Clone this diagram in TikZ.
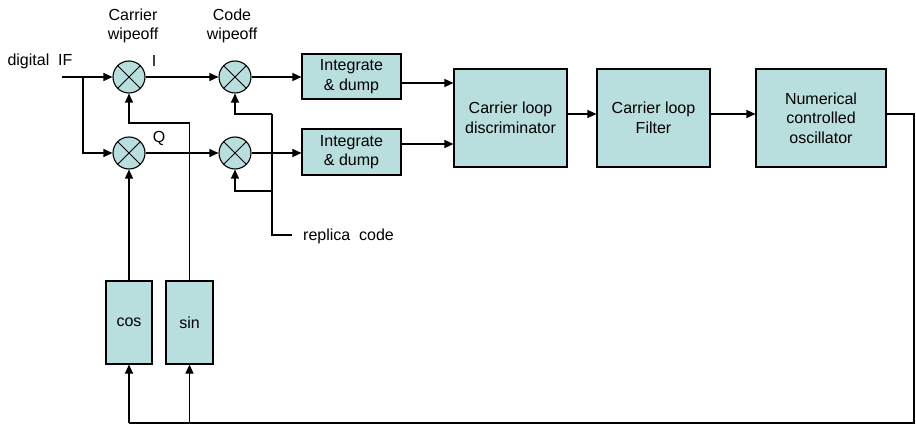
\documentclass[tikz,border=0pt]{standalone}
\usepackage{fontspec}
\setmainfont{Liberation Sans}
\usetikzlibrary{arrows.meta}
\definecolor{boxfill}{RGB}{185,222,222}
\begin{document}
\begin{tikzpicture}[x=1pt,y=-1pt,
  every node/.style={font=\fontsize{16}{19.5}\selectfont},
  blk/.style={draw, fill=boxfill, line width=1.1pt, inner sep=0pt, align=center},
  mix/.style={draw, circle, fill=boxfill, minimum size=32pt, inner sep=0pt, line width=1.1pt},
  wire/.style={line width=1.1pt},
  arr/.style={wire, -{Triangle[length=9pt,width=8pt]}},
  lbl/.style={align=center, inner sep=0pt}]
\useasboundingbox (0,0) rectangle (916,425);

% blocks
\node[blk, minimum width=99pt, minimum height=45pt] (id1) at (351.5,76.5) {Integrate\\\& dump};
\node[blk, minimum width=99pt, minimum height=46pt] (id2) at (351.5,152) {Integrate\\\& dump};
\node[blk, minimum width=113pt, minimum height=98pt] (disc) at (510.5,118) {Carrier loop\\discriminator};
\node[blk, minimum width=113pt, minimum height=98pt] (filt) at (653.5,118) {Carrier loop\\Filter};
\node[blk, minimum width=130pt, minimum height=98pt] (nco) at (821,118) {Numerical\\controlled\\oscillator};
\node[blk, minimum width=46pt, minimum height=83pt] (cos) at (129,322.5) {cos};
\node[blk, minimum width=47pt, minimum height=83pt] (sin) at (189.5,322.5) {sin};

% mixers
\node[mix] (m1) at (129,77) {};
\node[mix] (m2) at (129,153) {};
\node[mix] (m3) at (235,77) {};
\node[mix] (m4) at (235,153) {};
\foreach \m in {m1,m2,m3,m4}
  \draw[line width=0.8pt] (\m.north east) -- (\m.south west) (\m.north west) -- (\m.south east);

% labels
\node[lbl] (dif) at (40,61) {digital\ \ IF};
\node[lbl] (li) at (154,61) {I};
\node[lbl] (lq) at (159,138) {Q};
\node[lbl] (cw) at (133,26) {Carrier\\wipeoff};
\node[lbl] (kw) at (232,26) {Code\\wipeoff};
\node[lbl, anchor=west] (rep) at (303,236) {replica\ \ code};

% coordinates
\coordinate (in) at (62,77);
\coordinate (br) at (83,77);
\coordinate (sj) at (189.5,123);
\coordinate (rt) at (272,114);
\coordinate (rm) at (272,191);
\coordinate (rb) at (272,235);
\coordinate (rc) at (292,235);
\coordinate (fr) at (914,114);
\coordinate (fb) at (914,423);
\coordinate (fl) at (129,423);
\coordinate (fs) at (189.5,423);

% input
\draw[arr] (in) -- (m1.west);
\draw[arr] (br) |- (m2.west);
\draw[arr] (m1.east) -- (m3.west);
\draw[arr] (m2.east) -- (m4.west);
\draw[arr] (m3.east) -- (m3.east -| id1.west);
\draw[arr] (m4.east) -- (m4.east -| id2.west);

% carrier replicas
\draw[arr] (cos.north) -- (m2.south);
\draw[arr] (sin.north) -- (sj) -| (m1.south);

% code replica
\draw[wire] (rc) -- (rb) -- (rt);
\draw[arr] (rt) -| (m3.south);
\draw[arr] (rm) -| (m4.south);

% to discriminator
\draw[arr] ([yshift=-6.5pt]id1.east) -- ([yshift=-6.5pt]id1.east -| disc.west);
\draw[arr] ([yshift=8pt]id2.east) -- ([yshift=8pt]id2.east -| disc.west);
\draw[arr] ([yshift=4pt]disc.east) -- ([yshift=4pt]filt.west);
\draw[arr] ([yshift=4pt]filt.east) -- ([yshift=4pt]nco.west);

% feedback
\draw[wire] ([yshift=4pt]nco.east) -- (fr) -- (fb) -- (fl);
\draw[arr] (fl) -- (cos.south);
\draw[arr] (fs) -- (sin.south);
\end{tikzpicture}
\end{document}
